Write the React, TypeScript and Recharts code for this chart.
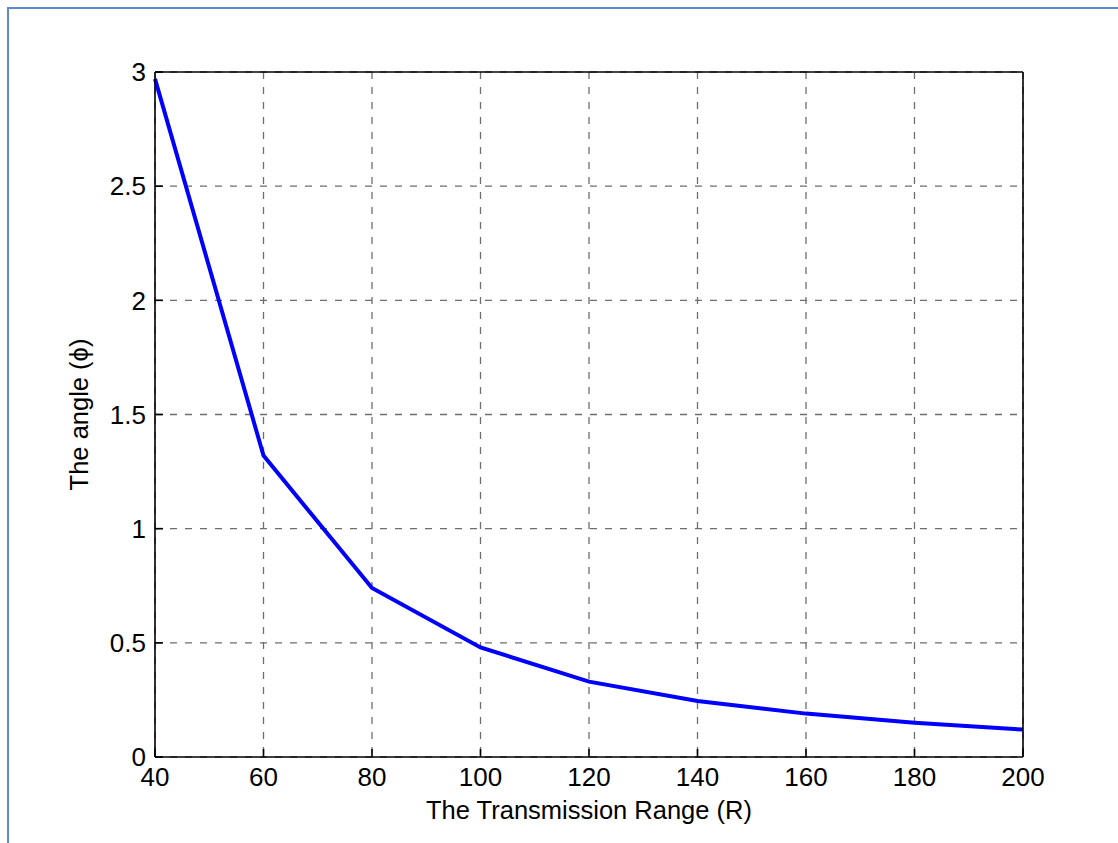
import {
  LineChart,
  Line,
  XAxis,
  YAxis,
  CartesianGrid,
} from "recharts";

// transmission range R and the resulting angle phi
const ranges = [40, 60, 80, 100, 120, 140, 160, 180, 200];
const angles = [2.97, 1.32, 0.74, 0.48, 0.33, 0.245, 0.19, 0.15, 0.12];

const xTicks = [40, 60, 80, 100, 120, 140, 160, 180, 200];
const yTicks = [0, 0.5, 1, 1.5, 2, 2.5, 3];

const data = ranges.map((r, i) => ({ r, phi: angles[i] }));

const FONT = "'Liberation Sans', Arial, sans-serif";
const tickStyle = { fontSize: 26, fill: "#000", fontFamily: FONT };
const labelStyle = { fontSize: 25.5, fill: "#000", fontFamily: FONT };
const axisLine = { stroke: "#000", strokeWidth: 1.6 };

export default function App() {
  return (
    <div
      style={{
        position: "absolute",
        left: 0,
        top: 0,
        width: 1118,
        height: 843,
        background: "#fff",
        overflow: "hidden",
      }}
    >
      <div
        style={{
          position: "absolute",
          left: 7,
          top: 7,
          width: 1200,
          height: 900,
          borderLeft: "2px solid #5b8bc9",
          borderTop: "2px solid #5b8bc9",
        }}
      />
      <div style={{ position: "absolute", left: 0, top: 0 }}>
        <LineChart
          width={1118}
          height={843}
          data={data}
          margin={{ top: 71, right: 94, bottom: 46, left: 0 }}
          style={{ fontFamily: FONT }}
        >
          <CartesianGrid
            stroke="#6e6e6e"
            strokeWidth={1.3}
            strokeDasharray="7 8"
          />
          <XAxis
            dataKey="r"
            type="number"
            domain={[40, 200]}
            ticks={xTicks}
            height={40}
            tick={tickStyle}
            tickSize={-8}
            tickMargin={19}
            axisLine={axisLine}
            tickLine={axisLine}
            label={{
              value: "The Transmission Range (R)",
              position: "bottom",
              offset: 4,
              style: labelStyle,
            }}
          />
          {/* top edge of the box, ticks only */}
          <XAxis
            xAxisId="top"
            orientation="top"
            dataKey="r"
            type="number"
            domain={[40, 200]}
            ticks={xTicks}
            height={1}
            tick={false}
            tickSize={-8}
            axisLine={axisLine}
            tickLine={axisLine}
          />
          <YAxis
            type="number"
            domain={[0, 3]}
            ticks={yTicks}
            width={155}
            tick={tickStyle}
            tickSize={-8}
            tickMargin={17}
            axisLine={axisLine}
            tickLine={axisLine}
            label={{
              value: "The angle (\u03d5)",
              angle: -90,
              position: "insideLeft",
              offset: 79,
              style: { ...labelStyle, textAnchor: "middle" },
            }}
          />
          {/* right edge of the box, ticks only */}
          <YAxis
            yAxisId="right"
            orientation="right"
            type="number"
            domain={[0, 3]}
            ticks={yTicks}
            width={1}
            tick={false}
            tickSize={-8}
            axisLine={axisLine}
            tickLine={axisLine}
          />
          <Line
            type="linear"
            dataKey="phi"
            stroke="#0000ff"
            strokeWidth={4}
            dot={false}
            isAnimationActive={false}
          />
        </LineChart>
      </div>
    </div>
  );
}
